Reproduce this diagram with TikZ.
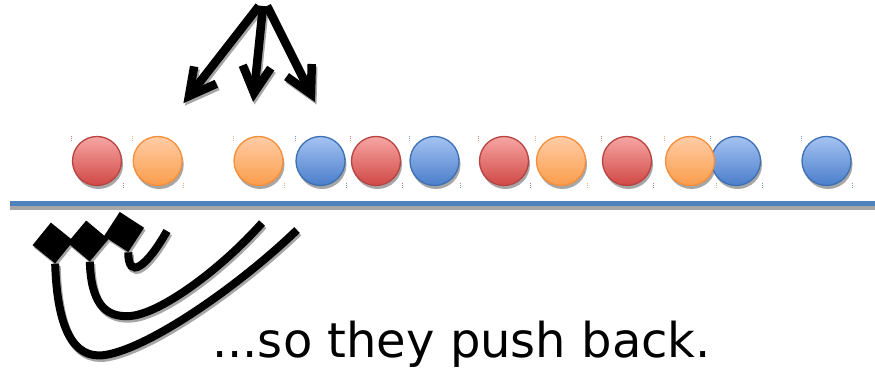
\documentclass[tikz,border=0pt]{standalone}
\usepackage{fontspec}
\setmainfont{DejaVu Sans}
\usetikzlibrary{calc}
\definecolor{redTop}{HTML}{F6A6A4}
\definecolor{redBot}{HTML}{D04845}
\definecolor{redEdge}{HTML}{B9433F}
\definecolor{orTop}{HTML}{FFCCA6}
\definecolor{orBot}{HTML}{FB9D4B}
\definecolor{orEdge}{HTML}{F68E3A}
\definecolor{blTop}{HTML}{A5C3F3}
\definecolor{blBot}{HTML}{4A7ECB}
\definecolor{blEdge}{HTML}{3D70B2}
\definecolor{lineBlue}{HTML}{4F81BD}
\definecolor{shadowGray}{HTML}{A6A6A6}
\pgfdeclarelayer{shadow}
\pgfsetlayers{shadow,main}
\begin{document}
\begin{tikzpicture}[x=1pt,y=-1pt,
  ball/.style={circle, minimum size=49pt, inner sep=0pt, line width=1.3pt},
  redball/.style={ball, draw=redEdge, top color=redTop, bottom color=redBot},
  orball/.style={ball, draw=orEdge, top color=orTop, bottom color=orBot},
  blball/.style={ball, draw=blEdge, top color=blTop, bottom color=blBot},
  ballshadow/.style={circle, minimum size=49pt, inner sep=0pt, fill=shadowGray},
  cornermark/.style={line width=0.8pt, dash pattern=on 1pt off 1pt},
  shaftline/.style={line width=8.5pt},
  headline/.style={line width=8.5pt, miter limit=10},
  hookline/.style={line width=8pt},
  diamondbox/.style={rectangle, minimum size=29pt, inner sep=0pt, fill=black},
  shadowed/.style={transform canvas={shift={(1.5pt,-2.5pt)}}, shadowGray}
]
\useasboundingbox (0,0) rectangle (875,371);

% ---------- balls ----------
\begin{pgfonlayer}{shadow}
\foreach \n/\x in {1/97,2/157.7,3/258.5,4/320.5,5/376,6/434.5,7/504,8/561,9/627,10/736,11/690,12/826.5}
  \node[ballshadow] (bs\n) at ({\x+1.5},164.5) {};
\end{pgfonlayer}
\foreach \n/\x/\s/\c in {1/97/redball/redEdge,2/157.7/orball/orEdge,3/258.5/orball/orEdge,
    4/320.5/blball/blEdge,5/376/redball/redEdge,6/434.5/blball/blEdge,7/504/redball/redEdge,
    8/561/orball/orEdge,9/627/redball/redEdge,10/736/blball/blEdge,11/690/orball/orEdge,
    12/826.5/blball/blEdge}{
  \node[\s] (b\n) at (\x,161) {};
  \draw[cornermark, \c!70] ($(b\n.west)+(0,-25)$) -- ++(0,6);
  \draw[cornermark, \c!70] ($(b\n.east)+(1,22)$) -- ++(0,6);
}

% ---------- ground line ----------
\coordinate (L0) at (10,203.75);
\coordinate (L1) at (875,203.75);
\begin{pgfonlayer}{shadow}
\draw[line width=5.5pt, shadowGray] ($(L0)+(0,3.5)$) -- ($(L1)+(0,3.5)$);
\end{pgfonlayer}
\draw[line width=5.5pt, lineBlue] (L0) -- (L1);

% ---------- three arrows ----------
\coordinate (A1) at (259,6);
\coordinate (A2) at (263,6);
\coordinate (A3) at (267,6);
\coordinate (T1) at (189,96);
\coordinate (T2) at (254,93);
\coordinate (T3) at (311,94);
\begin{pgfonlayer}{shadow}
\begin{scope}[shadowed]
\foreach \i in {1,2,3}{
  \draw[shaftline] (A\i) -- ($(T\i)!6pt!(A\i)$);
  \draw[headline] ($(T\i)!30pt!28:(A\i)$) -- (T\i) -- ($(T\i)!30pt!-28:(A\i)$);
}
\end{scope}
\end{pgfonlayer}
\foreach \i in {1,2,3}{
  \draw[shaftline] (A\i) -- ($(T\i)!6pt!(A\i)$);
  \draw[headline] ($(T\i)!30pt!28:(A\i)$) -- (T\i) -- ($(T\i)!30pt!-28:(A\i)$);
}

% ---------- hooks with diamond ends ----------
\node[diamondbox, rotate=51] (S1) at (53,243) {};
\node[diamondbox, rotate=50] (S2) at (88,241) {};
\node[diamondbox, rotate=57] (S3) at (124,232) {};
\coordinate (E1) at (297,230);
\coordinate (E2) at (262,223);
\coordinate (E3) at (167,231);
\begin{pgfonlayer}{shadow}
\begin{scope}[shadowed]
\node[diamondbox, rotate=51, fill=shadowGray] (S1s) at (53,243) {};
\node[diamondbox, rotate=50, fill=shadowGray] (S2s) at (88,241) {};
\node[diamondbox, rotate=57, fill=shadowGray] (S3s) at (124,232) {};
\draw[hookline] (S1.south west) .. controls (57,325) and (72,360) .. (105,355)
   .. controls (150,348) and (240,285) .. (E1);
\draw[hookline] (S2.south west) .. controls (91,300) and (103,318) .. (130,316)
   .. controls (160,314) and (220,270) .. (E2);
\draw[hookline] (S3.south west) .. controls (128,280) and (146,268) .. (E3);
\end{scope}
\end{pgfonlayer}
\draw[hookline] (S1.south west) .. controls (57,325) and (72,360) .. (105,355)
   .. controls (150,348) and (240,285) .. (E1);
\draw[hookline] (S2.south west) .. controls (91,300) and (103,318) .. (130,316)
   .. controls (160,314) and (220,270) .. (E2);
\draw[hookline] (S3.south west) .. controls (128,280) and (146,268) .. (E3);

% ---------- caption ----------
\node[anchor=base west, inner sep=0pt, font=\fontsize{48}{58}\selectfont] (cap) at (212,357) {...so they push back.};
\end{tikzpicture}
\end{document}
